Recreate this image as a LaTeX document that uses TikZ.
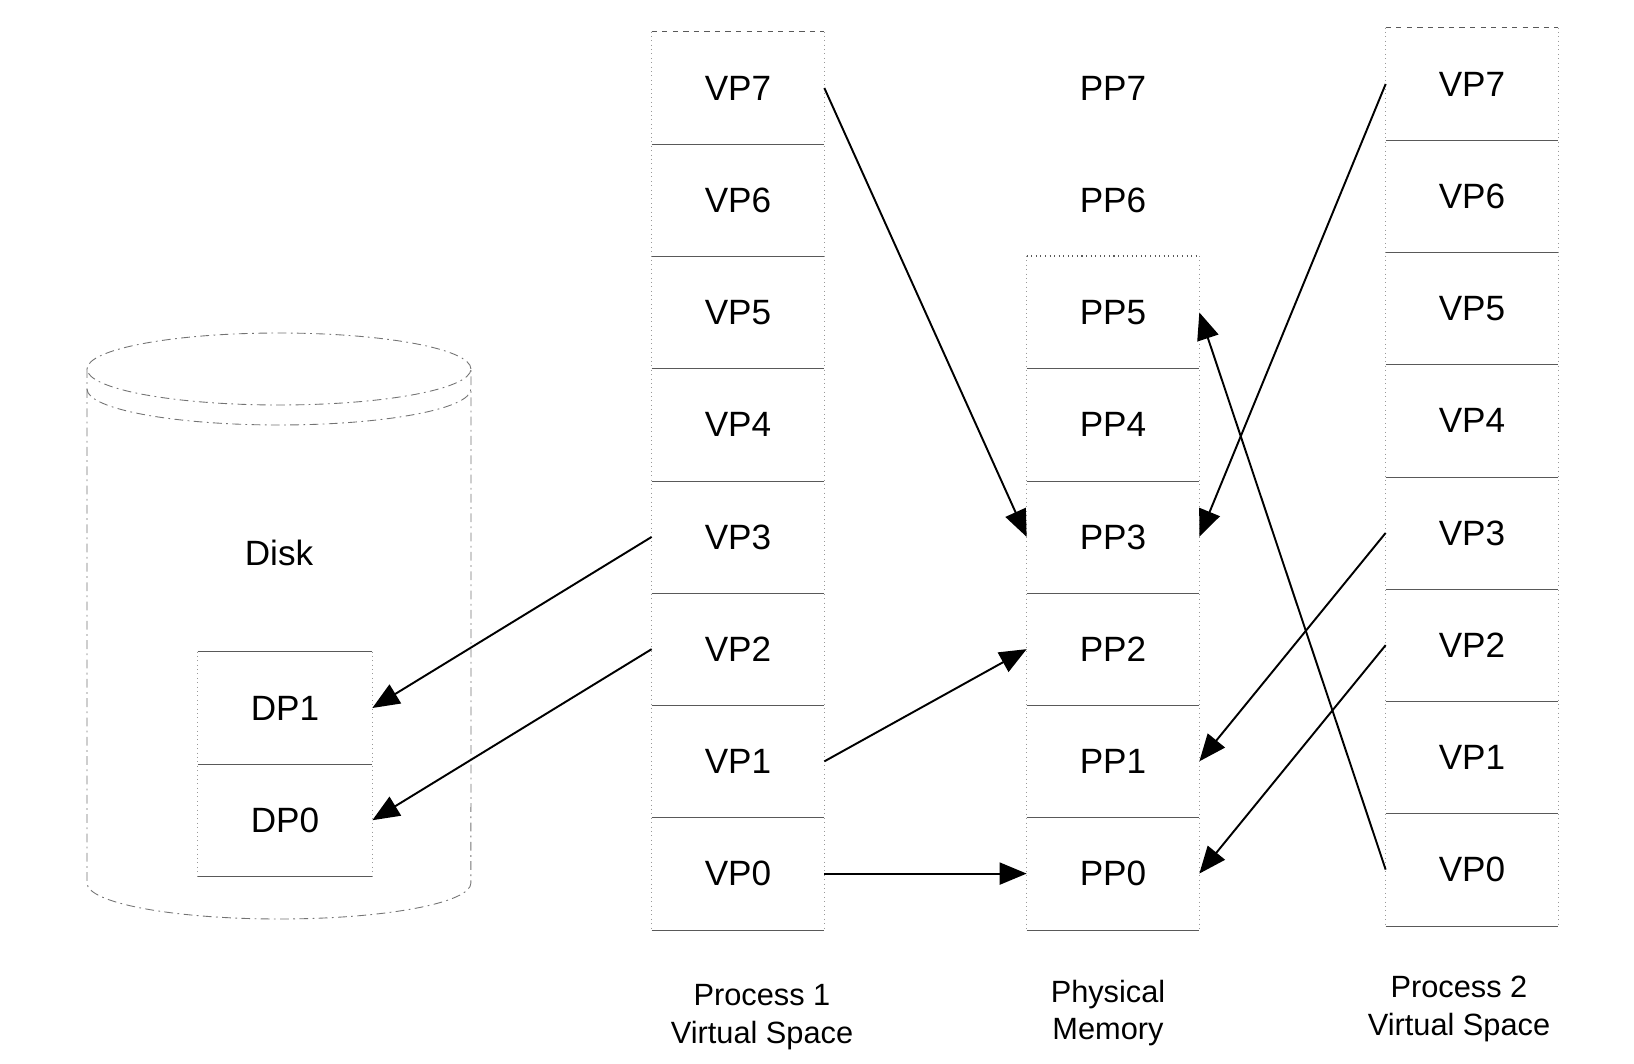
\documentclass[tikz,border=0pt]{standalone}
\usepackage{fontspec}
\setmainfont{Liberation Sans}
\usetikzlibrary{arrows.meta,positioning}
\tikzstyle{arrow} = [line width=1.1pt,-{Triangle[length=0.54cm,width=0.44cm]}]
\tikzset{pagecell/.style={rectangle,minimum width=3.44cm,minimum height=2.245cm,inner sep=0pt,font=\fontsize{20}{24}\selectfont},
sepline/.style={line width=0.6pt,draw=black!65},
sideline/.style={line width=0.5pt,draw=black!40,dotted},
diskline/.style={line width=0.5pt,draw=black!55,dash pattern=on 5pt off 2.5pt on 1pt off 2.5pt},
colname/.style={align=center,font=\fontsize{17.5}{21.5}\selectfont}}

\begin{document}
\begin{tikzpicture}[x=0.02cm,y=-0.02cm,node distance=2.245cm]
    \useasboundingbox (0,0) rectangle (1634,1064);

    % disk
    \draw [diskline] (279,369) ellipse [x radius=3.84cm, y radius=0.72cm];
    \draw [diskline] (87,369) -- (87,389) arc [start angle=180, end angle=360, x radius=3.84cm, y radius=0.72cm] -- (471,369);
    \draw [diskline] (87,389) -- (87,883) arc [start angle=180, end angle=360, x radius=3.84cm, y radius=0.72cm] -- (471,389);
    \node [font=\fontsize{20}{24}\selectfont] (disk) at (279,553) {Disk};

    \node [pagecell, minimum width=3.48cm] (dp1) at (285,708) {DP1};
    \node [pagecell, minimum width=3.48cm, below of = dp1] (dp0) {DP0};
    \draw [sideline] (dp1.north west) -- (dp0.south west);
    \draw [sideline] (dp1.north east) -- (dp0.south east);
    \draw [sepline] (dp1.north west) -- (dp1.north east);
    \draw [sepline] (dp1.south west) -- (dp1.south east);
    \draw [sepline] (dp0.south west) -- (dp0.south east);

    % process 1 virtual space
    \node [pagecell] (avp7) at (738,88) {VP7};
    \node [pagecell, below of = avp7] (avp6) {VP6};
    \node [pagecell, below of = avp6] (avp5) {VP5};
    \node [pagecell, below of = avp5] (avp4) {VP4};
    \node [pagecell, below of = avp4] (avp3) {VP3};
    \node [pagecell, below of = avp3] (avp2) {VP2};
    \node [pagecell, below of = avp2] (avp1) {VP1};
    \node [pagecell, below of = avp1] (avp0) {VP0};
    \draw [sideline] (avp7.north west) -- (avp0.south west);
    \draw [sideline] (avp7.north east) -- (avp0.south east);
    \draw [sepline, dashed] (avp7.north west) -- (avp7.north east);
    \foreach \n in {avp7,avp6,avp5,avp4,avp3,avp2,avp1,avp0}
        \draw [sepline] (\n.south west) -- (\n.south east);

    % physical memory
    \node [pagecell] (pp7) at (1113,88) {PP7};
    \node [pagecell, below of = pp7] (pp6) {PP6};
    \node [pagecell, below of = pp6] (pp5) {PP5};
    \node [pagecell, below of = pp5] (pp4) {PP4};
    \node [pagecell, below of = pp4] (pp3) {PP3};
    \node [pagecell, below of = pp3] (pp2) {PP2};
    \node [pagecell, below of = pp2] (pp1) {PP1};
    \node [pagecell, below of = pp1] (pp0) {PP0};
    \draw [sideline] (pp5.north west) -- (pp0.south west);
    \draw [sideline] (pp5.north east) -- (pp0.south east);
    \draw [sepline, dotted] (pp5.north west) -- (pp5.north east);
    \foreach \n in {pp5,pp4,pp3,pp2,pp1,pp0}
        \draw [sepline] (\n.south west) -- (\n.south east);

    % process 2 virtual space
    \node [pagecell] (bvp7) at (1472,84) {VP7};
    \node [pagecell, below of = bvp7] (bvp6) {VP6};
    \node [pagecell, below of = bvp6] (bvp5) {VP5};
    \node [pagecell, below of = bvp5] (bvp4) {VP4};
    \node [pagecell, below of = bvp4] (bvp3) {VP3};
    \node [pagecell, below of = bvp3] (bvp2) {VP2};
    \node [pagecell, below of = bvp2] (bvp1) {VP1};
    \node [pagecell, below of = bvp1] (bvp0) {VP0};
    \draw [sideline] (bvp7.north west) -- (bvp0.south west);
    \draw [sideline] (bvp7.north east) -- (bvp0.south east);
    \draw [sepline, dashed] (bvp7.north west) -- (bvp7.north east);
    \foreach \n in {bvp7,bvp6,bvp5,bvp4,bvp3,bvp2,bvp1,bvp0}
        \draw [sepline] (\n.south west) -- (\n.south east);

    \node [colname] (p1label) at (762,1017) {Process 1\\Virtual Space};
    \node [colname] (pmlabel) at (1108,1013) {Physical\\Memory};
    \node [colname] (p2label) at (1459,1009) {Process 2\\Virtual Space};

    % mappings
    \draw [arrow] (avp7.east) -- (pp3.west);
    \draw [arrow] (avp1.east) -- (pp2.west);
    \draw [arrow] (avp0.east) -- (pp0.west);
    \draw [arrow] (avp3.west) -- (dp1.east);
    \draw [arrow] (avp2.west) -- (dp0.east);
    \draw [arrow] (bvp7.west) -- (pp3.east);
    \draw [arrow] (bvp3.west) -- (pp1.east);
    \draw [arrow] (bvp2.west) -- (pp0.east);
    \draw [arrow] (bvp0.west) -- (pp5.east);
\end{tikzpicture}
\end{document}
